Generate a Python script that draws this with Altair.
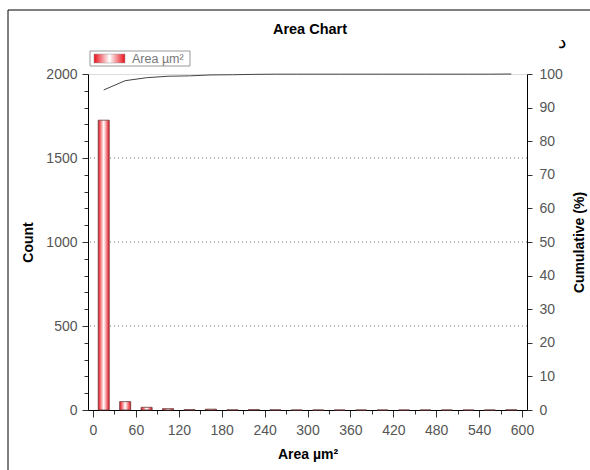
import altair as alt
import pandas as pd

# ---- data ----
bin_centers = [15, 45, 75, 105, 135, 165, 195, 225, 255, 285,
               315, 345, 375, 405, 435, 465, 495, 525, 555, 585]
counts = [1725, 50, 16, 8, 2, 5, 1, 2, 1, 0,
          0, 0, 0, 0, 0, 0, 0, 0, 0, 1]
grid_values = [500, 1000, 1500]
x_ticks = list(range(0, 601, 30))
y_ticks = list(range(0, 2001, 100))
y2_ticks = list(range(0, 101, 10))

df = pd.DataFrame({"area": bin_centers, "count": counts})
df["cum"] = df["count"].cumsum() / df["count"].sum() * 100

W, H = 439, 336
FONT = "Liberation Sans"
LBL = "#555555"
AX = dict(labelFont=FONT, titleFont=FONT, labelFontSize=14, titleFontSize=14,
          labelColor=LBL, titleColor="#000000", tickColor="#333333",
          domainColor="#000000", titleFontWeight="bold", grid=False,
          labelOverlap=False, format="d")

red_grad = alt.Gradient(
    gradient="linear",
    stops=[alt.GradientStop(color="#e8101a", offset=0),
           alt.GradientStop(color="#ffffff", offset=0.5),
           alt.GradientStop(color="#e8101a", offset=1)],
    x1=0, x2=1, y1=0, y2=0)

xscale = alt.Scale(domain=[0, 600], nice=False, zero=False)
yscale = alt.Scale(domain=[0, 2000], nice=False)

x_axis = alt.Axis(values=x_ticks, title="Area µm²",
                  labelExpr="datum.value % 60 === 0 ? datum.label : ''",
                  tickSize={"condition": {"test": "datum.value % 60 === 0", "value": 7}, "value": 4},
                  labelPadding=6, titlePadding=10, **AX)
y_axis = alt.Axis(values=y_ticks, title="Count",
                  labelExpr="datum.value % 500 === 0 ? datum.label : ''",
                  tickSize={"condition": {"test": "datum.value % 500 === 0", "value": 6}, "value": 4},
                  labelPadding=5, titlePadding=10, **AX)
y2_axis = alt.Axis(orient="right", values=y2_ticks, title="Cumulative (%)",
                   tickSize=5, labelPadding=7, titlePadding=10, titleAngle=270,
                   titleBaseline="top", **AX)

bars = alt.Chart(df).mark_bar(size=11, fill=red_grad, stroke="#6b3b3b", strokeWidth=0.8).encode(
    x=alt.X("area:Q", scale=xscale, axis=x_axis),
    y=alt.Y("count:Q", scale=yscale, axis=y_axis),
)

grid = alt.Chart(pd.DataFrame({"g": grid_values})).mark_rule(
    color="#777777", strokeDash=[1, 3], strokeWidth=1).encode(
    y=alt.Y("g:Q", scale=yscale, axis=y_axis),
)

left = alt.layer(grid, bars)

line = alt.Chart(df).mark_line(color="#444444", strokeWidth=1).encode(
    x=alt.X("area:Q", scale=xscale, axis=x_axis),
    y=alt.Y("cum:Q", scale=alt.Scale(domain=[0, 100], nice=False), axis=y2_axis),
)

one = alt.Data(values=[{"a": 1}])

def deco_text(txt, x, y, **kw):
    return alt.Chart(one).mark_text(font=FONT, **kw).encode(
        x=alt.value(x), y=alt.value(y), text=alt.value(txt))

title = deco_text("Area Chart", 222, -44, fontSize=14.5, fontWeight="bold", color="#000000")
dal = deco_text("د", 474, -32, fontSize=19, color="#000000")
leg_text = deco_text("Area µm²", 44, -15, fontSize=12.5, color="#777777", align="left")
leg_box = alt.Chart(one).mark_rect(fill="#ffffff", stroke="#999999", strokeWidth=1).encode(
    x=alt.value(2), x2=alt.value(102), y=alt.value(-23), y2=alt.value(-8))
leg_sw = alt.Chart(one).mark_rect(fill=red_grad, stroke="#999999", strokeWidth=0.5).encode(
    x=alt.value(6), x2=alt.value(37), y=alt.value(-20), y2=alt.value(-11))
frame_l = alt.Chart(one).mark_rule(color="#000000", strokeWidth=1).encode(
    x=alt.value(-80), y=alt.value(-64), y2=alt.value(400))
frame_t = alt.Chart(one).mark_rule(color="#000000", strokeWidth=1).encode(
    x=alt.value(-80), x2=alt.value(510), y=alt.value(-64))

chart = alt.layer(
    left, line, title, dal, leg_box, leg_sw, leg_text, frame_l, frame_t
).resolve_scale(y="independent").properties(
    width=W, height=H,
    autosize=alt.AutoSizeParams(type="none"),
    padding={"left": 88, "top": 74, "right": 63, "bottom": 60},
).configure_view(stroke="#000000", strokeWidth=1).configure(background="#ffffff")

chart.save("out.html", embed_options={"renderer": "svg", "actions": False})
